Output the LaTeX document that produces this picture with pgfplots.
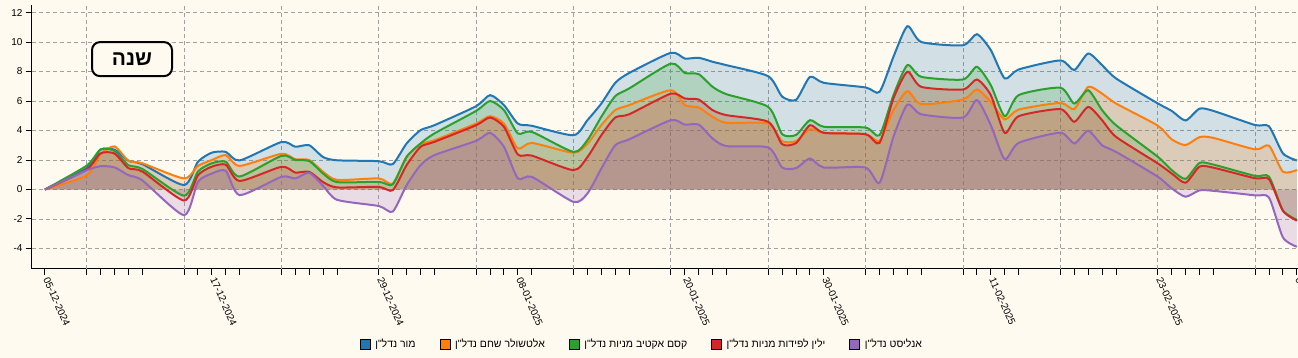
\documentclass[border=0pt]{standalone}
\usepackage{fontspec}
\setmainfont{Liberation Sans}
\newfontfamily\hebfont[Script=Hebrew]{Liberation Sans}
\TeXXeTstate=1
\usepackage{pgfplots}
\pgfplotsset{compat=1.18}
\usepackage{pgfplotstable}
\newcommand\heb[1]{{\hebfont\beginR #1\endR}}
\definecolor{cb}{HTML}{1F77B4}
\definecolor{co}{HTML}{FF7F0E}
\definecolor{cg}{HTML}{2CA02C}
\definecolor{cr}{HTML}{D62728}
\definecolor{cp}{HTML}{9467BD}
\definecolor{bg}{HTML}{FFFAF0}
\definecolor{gridc}{RGB}{160,160,160}

\pgfplotstableread{
d b o g r p
0 0 0 0 0 0
3 1.45 0.95 1.62 1.35 1.3
4 2.7 2.4 2.72 2.45 1.58
5 2.7 2.92 2.62 2.44 1.5
6 1.95 1.95 1.65 1.45 0.97
7 1.72 1.78 1.4 1.22 0.62
10 0.3 0.75 -0.42 -0.75 -1.74
11 1.88 1.6 1.22 0.97 0.52
12 2.5 2.0 1.78 1.55 1.08
13 2.55 2.33 1.88 1.68 1.27
14 1.97 1.6 0.88 0.58 -0.38
17 3.22 2.42 2.28 1.54 0.86
18 2.9 2.05 2.0 1.15 0.75
19 3.0 2.0 1.93 1.2 1.13
20 2.2 1.2 1.08 0.5 0.25
21 1.98 0.65 0.5 0.14 -0.7
24 1.92 0.75 0.52 0.18 -1.12
25 1.72 0.4 0.34 -0.05 -1.5
26 3.12 2.21 2.21 1.65 0.29
27 4.02 3.07 3.12 2.89 1.65
28 4.36 3.34 3.8 3.23 2.33
31 5.65 4.47 5.33 4.36 3.3
32 6.4 4.97 6.0 4.88 3.84
33 5.72 4.47 5.38 4.25 2.89
34 4.47 2.78 3.8 2.37 0.75
35 4.32 3.16 3.91 2.3 0.86
38 3.68 2.49 2.55 1.31 -0.84
39 4.7 3.1 3.35 2.2 -0.27
40 5.83 4.36 4.93 3.68 1.42
41 7.23 5.38 6.33 4.88 3.0
42 7.9 5.72 6.85 5.1 3.4
45 9.27 6.73 8.54 6.5 4.7
46 8.88 5.72 7.9 6.17 4.4
47 8.93 5.56 7.82 6.1 4.4
48 8.66 4.93 6.96 5.38 3.46
49 8.43 4.52 6.46 5.04 2.94
52 7.68 4.47 5.6 4.59 2.85
53 6.3 3.28 3.75 3.07 1.49
54 6.08 3.28 3.7 3.15 1.45
55 7.64 4.09 4.7 4.36 2.1
56 7.23 3.84 4.25 3.84 1.49
59 6.92 3.75 4.2 3.75 1.49
60 6.62 3.3 3.68 3.16 0.45
61 9.0 5.38 6.4 6.17 3.57
62 11.07 6.67 8.43 7.98 5.76
63 10.0 5.79 7.64 6.96 5.1
66 9.78 6.1 7.46 6.78 4.88
67 10.53 6.78 8.32 7.46 6.06
68 9.45 5.94 7.07 6.4 4.36
69 7.53 4.75 4.97 3.84 2.06
70 8.14 5.42 6.4 4.97 3.16
73 8.75 5.87 6.9 5.45 3.85
74 8.1 5.45 5.83 4.59 3.12
75 9.22 6.96 6.73 5.6 3.98
76 8.43 6.5 5.38 4.7 3.0
77 7.53 5.83 4.36 3.57 2.55
80 5.84 4.33 2.22 1.77 0.87
81 5.33 3.4 1.32 1.09 0.08
82 4.68 3.01 0.72 0.46 -0.49
83 5.48 3.55 1.8 1.55 -0.06
84 5.33 3.5 1.69 1.48 -0.09
87 4.37 2.72 0.92 0.76 -0.4
88 4.28 2.97 0.87 0.7 -0.55
89 2.45 1.2 -1.42 -1.45 -3.25
90 1.97 1.32 -2.05 -2.11 -3.88
}\data

\begin{document}
\begin{tikzpicture}
\fill[bg] (0,0) rectangle (1298pt,358pt);
\begin{axis}[
  at={(32pt,89pt)}, anchor=south west,
  scale only axis, width=1266pt, height=264pt,
  xmin=-0.93, xmax=90.08, ymin=-5.39, ymax=12.51,
  axis lines=left, axis line style={-, black, line width=1pt},
  tick align=outside,
  major tick length=6pt, minor tick length=6pt,
  tick style={black, line width=1pt},
  xtick={0,12,24,34,46,56,68,80,90},
  xticklabels={05-12-2024,17-12-2024,29-12-2024,08-01-2025,20-01-2025,30-01-2025,11-02-2025,23-02-2025,05-03-2025},
  minor xtick={3,4,5,6,7,10,11,13,14,17,18,19,20,21,25,26,27,28,31,32,33,35,38,39,40,41,42,45,47,48,49,52,53,54,55,59,60,61,62,63,66,67,69,70,73,74,75,76,77,81,82,83,84,87,88,89},
  ytick={-4,-2,...,12},
  ymajorgrids,
  grid style={gridc, dash pattern=on 4pt off 3pt, line width=0.8pt},
  extra x ticks={3,10,17,24,31,38,45,52,59,66,73,80,87},
  extra x tick labels={},
  extra x tick style={xmajorgrids=true, major tick length=0pt},
  x tick label style={font=\fontsize{10}{12}\selectfont, rotate=-66, anchor=west},
  y tick label style={font=\fontsize{10}{12}\selectfont},
  /pgf/number format/assume math mode=true,
  legend columns=5,
  legend image code/.code={\fill[#1] (0pt,-5pt) rectangle (10pt,5pt);},
  legend style={at={(axis description cs:0.481,-0.284)}, anchor=center,
    draw=none, fill=none, font=\fontsize{10.5}{13}\selectfont,
    nodes={inner sep=0pt},
    /tikz/every odd column/.append style={column sep=5pt},
    /tikz/every even column/.append style={column sep=24pt}},
]
\addplot[draw=none, fill=cb, fill opacity=0.2, smooth, tension=0.4, forget plot] table[x=d,y=b]{\data} \closedcycle;
\addplot[draw=none, fill=co, fill opacity=0.2, smooth, tension=0.4, forget plot] table[x=d,y=o]{\data} \closedcycle;
\addplot[draw=none, fill=cg, fill opacity=0.2, smooth, tension=0.4, forget plot] table[x=d,y=g]{\data} \closedcycle;
\addplot[draw=none, fill=cr, fill opacity=0.2, smooth, tension=0.4, forget plot] table[x=d,y=r]{\data} \closedcycle;
\addplot[draw=none, fill=cp, fill opacity=0.2, smooth, tension=0.4, forget plot] table[x=d,y=p]{\data} \closedcycle;
\addplot[cb, line width=2pt, smooth, tension=0.4, forget plot] table[x=d,y=b]{\data};
\addplot[co, line width=2pt, smooth, tension=0.4, forget plot] table[x=d,y=o]{\data};
\addplot[cg, line width=2pt, smooth, tension=0.4, forget plot] table[x=d,y=g]{\data};
\addplot[cr, line width=2pt, smooth, tension=0.4, forget plot] table[x=d,y=r]{\data};
\addplot[cp, line width=2pt, smooth, tension=0.4, forget plot] table[x=d,y=p]{\data};
\addlegendimage{fill=cb}\addlegendentry{\heb{מור נדל"ן}}
\addlegendimage{fill=co}\addlegendentry{\heb{אלטשולר שחם נדל"ן}}
\addlegendimage{fill=cg}\addlegendentry{\heb{קסם אקטיב מניות נדל"ן}}
\addlegendimage{fill=cr}\addlegendentry{\heb{ילין לפידות מניות נדל"ן}}
\addlegendimage{fill=cp}\addlegendentry{\heb{אנליסט נדל"ן}}
\node[draw=black, fill=bg, rounded corners=8pt, line width=2pt, minimum width=80pt, minimum height=34pt, inner sep=0pt, font=\fontsize{21}{25}\selectfont\bfseries] at (rel axis cs:0.079,0.795) {\heb{שנה}};
\end{axis}
\pgfresetboundingbox
\path[use as bounding box] (0,0) rectangle (1298pt,358pt);
\end{tikzpicture}
\end{document}
